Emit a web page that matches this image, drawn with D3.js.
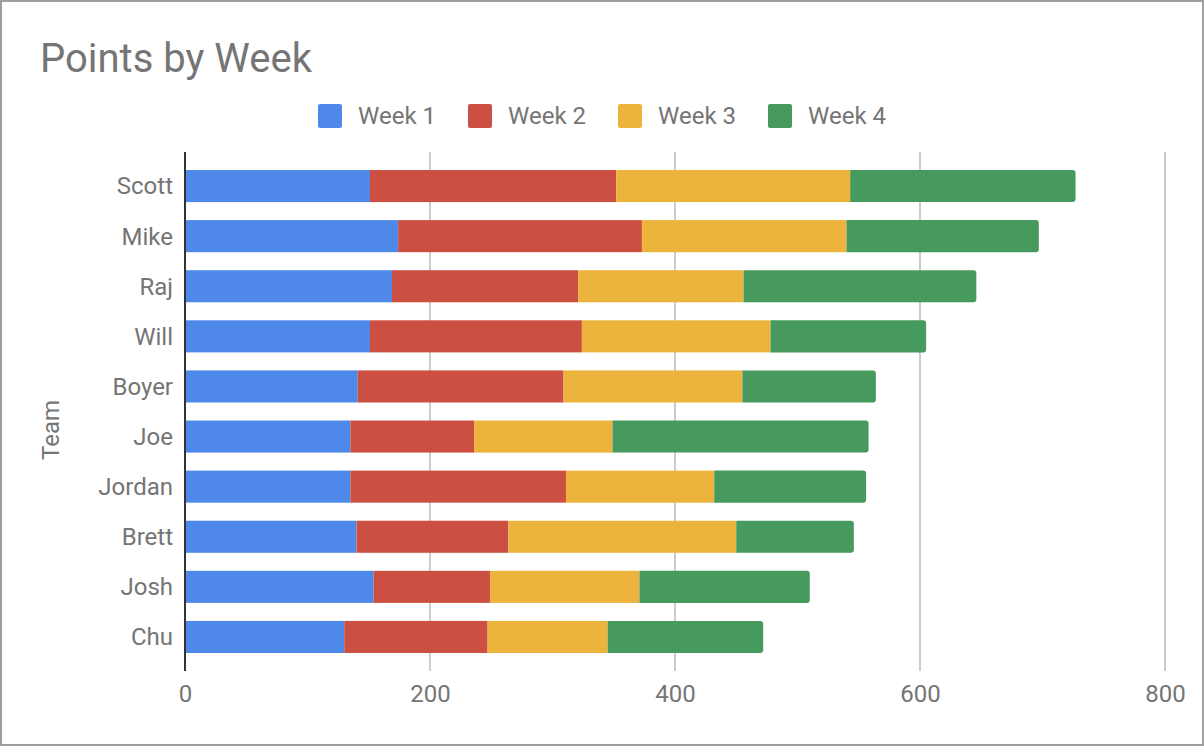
<!DOCTYPE html>
<html>
<head>
<meta charset="utf-8">
<script src="https://cdn.jsdelivr.net/npm/d3@7"></script>
<style>
  html, body { margin: 0; padding: 0; background: #fff; }
  svg { display: block; }
  text { font-family: Roboto, "Noto Sans", Arial, sans-serif; fill: #757575; }
</style>
</head>
<body>
<svg id="chart" width="1204" height="746"></svg>
<script>
const teams = ["Scott", "Mike", "Raj", "Will", "Boyer", "Joe", "Jordan", "Brett", "Josh", "Chu"];
const seriesNames = ["Week 1", "Week 2", "Week 3", "Week 4"];
const week1 = [151, 174, 169, 151, 141, 135, 135, 140, 154, 130];
const week2 = [201, 199, 152, 173, 168, 101, 176, 124, 95, 117];
const week3 = [191, 167, 135, 154, 146, 113, 121, 186, 122, 98];
const week4 = [184, 157, 190, 127, 109, 209, 124, 96, 139, 127];
const xTicks = [0, 200, 400, 600, 800];
const colors = ["#4e88e8", "#cb5042", "#ecb43d", "#469a5e"];

const rows = teams.map((t, i) => ({
  team: t,
  "Week 1": week1[i], "Week 2": week2[i], "Week 3": week3[i], "Week 4": week4[i]
}));
const stacked = d3.stack().keys(seriesNames)(rows);

const svg = d3.select("#chart");
const W = 1204, H = 746;

// frame
svg.append("rect").attr("x", 1).attr("y", 1).attr("width", W - 2).attr("height", H - 2)
  .attr("fill", "#fff").attr("stroke", "#9e9e9e").attr("stroke-width", 2);

const x = d3.scaleLinear().domain([0, 800]).range([185, 1165]);
const y = d3.scaleBand().domain(teams).range([161, 662]).paddingInner(0.36).paddingOuter(0.18);

// gridlines
svg.append("g").selectAll("line").data(xTicks.filter(d => d !== 0)).join("line")
  .attr("x1", d => x(d)).attr("x2", d => x(d))
  .attr("y1", 152).attr("y2", 671)
  .attr("stroke", "#cccccc").attr("stroke-width", 2);

// bars
function roundedRight(x0, y0, w, h, r) {
  r = Math.min(r, w);
  return `M${x0},${y0}H${x0 + w - r}Q${x0 + w},${y0} ${x0 + w},${y0 + r}` +
         `V${y0 + h - r}Q${x0 + w},${y0 + h} ${x0 + w - r},${y0 + h}H${x0}Z`;
}
const last = seriesNames.length - 1;
stacked.forEach((layer, li) => {
  const g = svg.append("g").attr("fill", colors[li]);
  if (li < last) {
    g.selectAll("rect").data(layer).join("rect")
      .attr("x", d => x(d[0]))
      .attr("y", d => y(d.data.team))
      .attr("width", d => x(d[1]) - x(d[0]))
      .attr("height", y.bandwidth());
  } else {
    g.selectAll("path").data(layer).join("path")
      .attr("d", d => roundedRight(x(d[0]), y(d.data.team), x(d[1]) - x(d[0]), y.bandwidth(), 3));
  }
});

// x axis tick labels
const xAxis = d3.axisBottom(x).tickValues(xTicks).tickSize(0).tickPadding(0).tickFormat(d3.format("d"));
const xg = svg.append("g").attr("transform", "translate(0,684)").call(xAxis);
xg.select(".domain").remove();
xg.selectAll("text").attr("font-size", 24).attr("fill", "#757575")
  .attr("font-family", "Roboto, 'Noto Sans', sans-serif").attr("dy", "0.75em");

// y axis labels
const yAxis = d3.axisLeft(y).tickSize(0).tickPadding(12);
const yg = svg.append("g").attr("transform", "translate(185,0)").call(yAxis);
yg.select(".domain").remove();
yg.selectAll("text").attr("font-size", 24).attr("fill", "#757575")
  .attr("font-family", "Roboto, 'Noto Sans', sans-serif").attr("dy", "0.35em");

// vertical baseline
svg.append("line").attr("x1", x(0)).attr("x2", x(0)).attr("y1", 152).attr("y2", 671)
  .attr("stroke", "#333333").attr("stroke-width", 2);

// title
svg.append("text").attr("x", 40).attr("y", 72).attr("font-size", 40).text("Points by Week");

// y-axis title
svg.append("text").attr("transform", "translate(59,430) rotate(-90)")
  .attr("text-anchor", "middle").attr("font-size", 24).text("Team");

// legend
const lg = svg.append("g").selectAll("g").data(seriesNames).join("g")
  .attr("transform", (d, i) => `translate(${318 + i * 150},104)`);
lg.append("rect").attr("width", 24).attr("height", 24).attr("rx", 2)
  .attr("fill", (d, i) => colors[i]);
lg.append("text").attr("x", 40).attr("y", 20).attr("font-size", 24).text(d => d);
</script>
</body>
</html>
